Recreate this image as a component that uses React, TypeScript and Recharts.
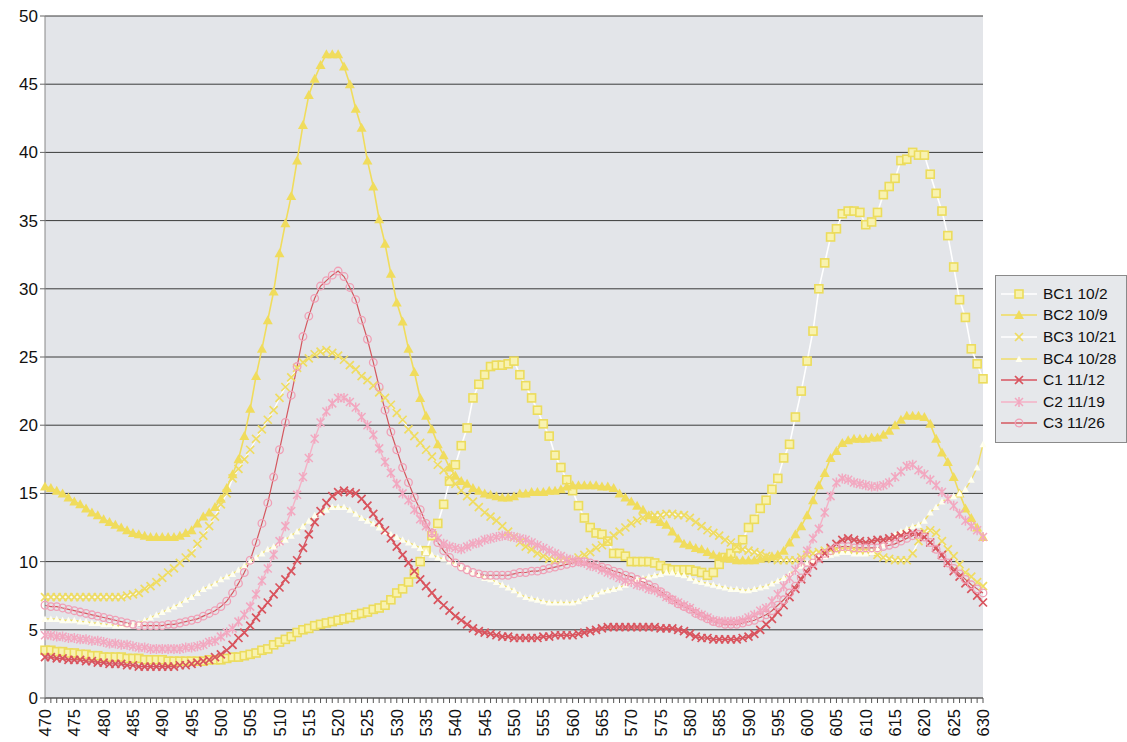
import React from 'react';
import { LineChart, Line, XAxis, YAxis, CartesianGrid } from 'recharts';

const FONT = '"Liberation Sans", Arial, sans-serif';

const wavelengths = [
  470, 471, 472, 473, 474, 475, 476, 477, 478, 479, 480, 481, 482, 483, 484, 485, 486, 487, 488, 489,
  490, 491, 492, 493, 494, 495, 496, 497, 498, 499, 500, 501, 502, 503, 504, 505, 506, 507, 508, 509,
  510, 511, 512, 513, 514, 515, 516, 517, 518, 519, 520, 521, 522, 523, 524, 525, 526, 527, 528, 529,
  530, 531, 532, 533, 534, 535, 536, 537, 538, 539, 540, 541, 542, 543, 544, 545, 546, 547, 548, 549,
  550, 551, 552, 553, 554, 555, 556, 557, 558, 559, 560, 561, 562, 563, 564, 565, 566, 567, 568, 569,
  570, 571, 572, 573, 574, 575, 576, 577, 578, 579, 580, 581, 582, 583, 584, 585, 586, 587, 588, 589,
  590, 591, 592, 593, 594, 595, 596, 597, 598, 599, 600, 601, 602, 603, 604, 605, 606, 607, 608, 609,
  610, 611, 612, 613, 614, 615, 616, 617, 618, 619, 620, 621, 622, 623, 624, 625, 626, 627, 628, 629,
  630,
];

const yTicks = [0, 5, 10, 15, 20, 25, 30, 35, 40, 45, 50];

const bc1 = [
  3.5, 3.5, 3.4, 3.4, 3.3, 3.3, 3.2, 3.2, 3.1, 3.1,
  3.0, 3.0, 3.0, 3.0, 2.9, 2.9, 2.9, 2.8, 2.8, 2.8,
  2.8, 2.7, 2.7, 2.7, 2.7, 2.7, 2.7, 2.7, 2.8, 2.8,
  2.8, 2.9, 3.0, 3.0, 3.1, 3.2, 3.3, 3.5, 3.6, 3.9,
  4.1, 4.3, 4.5, 4.8, 5.0, 5.1, 5.3, 5.4, 5.5, 5.6,
  5.7, 5.8, 5.9, 6.1, 6.2, 6.3, 6.5, 6.6, 6.8, 7.2,
  7.7, 8.0, 8.5, 9.1, 10.0, 10.8, 11.9, 12.8, 14.2, 15.9,
  17.1, 18.5, 19.8, 22.0, 23.0, 23.7, 24.3, 24.4, 24.4, 24.5,
  24.7, 23.7, 22.9, 22.0, 21.1, 20.1, 19.2, 17.8, 16.9, 16.0,
  15.2, 14.1, 13.2, 12.5, 12.1, 12.0, 11.5, 10.6, 10.6, 10.4,
  10.0, 10.0, 10.0, 10.0, 9.9, 9.7, 9.5, 9.4, 9.4, 9.4,
  9.4, 9.3, 9.2, 9.0, 9.2, 9.8, 10.3, 10.6, 11.0, 11.6,
  12.5, 13.1, 13.9, 14.5, 15.3, 16.1, 17.6, 18.6, 20.6, 22.5,
  24.7, 26.9, 30.0, 31.9, 33.8, 34.4, 35.5, 35.7, 35.7, 35.6,
  34.7, 34.9, 35.6, 36.9, 37.5, 38.1, 39.4, 39.5, 40.0, 39.8,
  39.8, 38.4, 37.0, 35.7, 33.9, 31.6, 29.2, 27.9, 25.6, 24.5,
  23.4,
];

const bc2 = [
  15.5, 15.4, 15.2, 15.0, 14.7, 14.4, 14.2, 13.9, 13.6, 13.4,
  13.1, 12.9, 12.7, 12.5, 12.3, 12.1, 12.0, 11.9, 11.8, 11.8,
  11.8, 11.8, 11.8, 11.9, 12.1, 12.3, 12.8, 13.3, 13.6, 14.0,
  14.6, 15.4, 16.4, 17.5, 19.2, 21.2, 23.6, 25.6, 27.7, 29.8,
  32.6, 34.8, 36.8, 39.4, 42.0, 44.2, 45.4, 46.4, 47.2, 47.2,
  47.2, 46.3, 45.0, 43.2, 41.8, 39.4, 37.5, 35.1, 33.3, 31.1,
  29.0, 27.6, 25.6, 23.9, 22.0, 20.7, 19.7, 18.6, 17.8, 16.9,
  16.3, 15.9, 15.7, 15.4, 15.2, 15.0, 14.9, 14.8, 14.7, 14.7,
  14.8, 15.0, 15.0, 15.1, 15.1, 15.1, 15.2, 15.2, 15.3, 15.5,
  15.6, 15.6, 15.6, 15.6, 15.6, 15.5, 15.5, 15.4, 15.0, 14.7,
  14.4, 14.1, 13.8, 13.4, 13.1, 12.9, 12.7, 12.2, 11.7, 11.3,
  11.2, 11.0, 10.9, 10.7, 10.5, 10.4, 10.3, 10.2, 10.1, 10.1,
  10.1, 10.1, 10.2, 10.3, 10.4, 10.5, 10.8, 11.4, 12.0, 12.6,
  13.4, 14.5, 15.6, 16.5, 17.6, 18.1, 18.7, 18.9, 19.0, 19.0,
  19.0, 19.1, 19.1, 19.3, 19.6, 20.0, 20.4, 20.7, 20.7, 20.7,
  20.6, 20.1, 19.0, 18.0, 17.3, 16.2, 15.0, 13.9, 13.2, 12.5,
  11.8,
];

const bc3 = [
  7.4, 7.4, 7.4, 7.4, 7.4, 7.4, 7.4, 7.4, 7.4, 7.4,
  7.4, 7.4, 7.4, 7.4, 7.5, 7.6, 7.7, 8.0, 8.2, 8.5,
  8.8, 9.2, 9.5, 9.9, 10.3, 10.6, 11.3, 11.9, 12.6, 13.3,
  14.2, 15.0, 16.1, 16.8, 17.5, 18.2, 19.0, 19.7, 20.4, 21.1,
  22.0, 22.8, 23.5, 24.2, 24.6, 24.9, 25.2, 25.4, 25.5, 25.3,
  25.1, 24.8, 24.4, 24.1, 23.6, 23.3, 22.9, 22.4, 22.0, 21.5,
  20.9, 20.4, 19.7, 19.2, 18.7, 18.2, 17.7, 17.1, 16.7, 16.2,
  15.7, 15.2, 14.8, 14.4, 14.0, 13.6, 13.3, 13.0, 12.6, 12.2,
  11.8, 11.4, 11.1, 10.9, 10.6, 10.4, 10.2, 10.1, 10.1, 10.1,
  10.1, 10.3, 10.5, 10.7, 11.0, 11.2, 11.5, 11.9, 12.2, 12.5,
  12.8, 13.0, 13.2, 13.3, 13.4, 13.4, 13.5, 13.5, 13.4, 13.4,
  13.2, 12.9, 12.6, 12.3, 12.1, 11.9, 11.6, 11.4, 11.1, 10.9,
  10.8, 10.7, 10.6, 10.4, 10.2, 10.1, 10.1, 10.1, 10.1, 10.3,
  10.5, 10.6, 10.7, 10.8, 10.9, 10.9, 10.9, 10.9, 10.9, 10.8,
  10.8, 10.7, 10.5, 10.3, 10.2, 10.1, 10.1, 10.1, 10.6, 11.5,
  12.2, 12.3, 12.1, 11.5, 10.9, 10.4, 9.8, 9.2, 8.9, 8.5,
  8.2,
];

const bc4 = [
  5.8, 5.8, 5.8, 5.7, 5.7, 5.7, 5.6, 5.6, 5.5, 5.5,
  5.4, 5.4, 5.3, 5.3, 5.3, 5.4, 5.5, 5.7, 5.9, 6.1,
  6.3, 6.5, 6.7, 6.9, 7.2, 7.4, 7.7, 8.0, 8.2, 8.4,
  8.7, 8.9, 9.1, 9.4, 9.7, 10.0, 10.3, 10.6, 10.9, 11.1,
  11.4, 11.6, 11.9, 12.2, 12.6, 13.0, 13.4, 13.6, 13.8, 14.0,
  14.0, 14.0, 13.8, 13.5, 13.2, 13.0, 12.8, 12.5, 12.2, 12.0,
  11.8, 11.6, 11.4, 11.2, 11.0, 10.7, 10.5, 10.3, 10.2, 10.0,
  9.8, 9.6, 9.4, 9.2, 9.0, 8.8, 8.7, 8.5, 8.3, 8.1,
  7.9, 7.6, 7.4, 7.3, 7.2, 7.1, 7.0, 7.0, 7.0, 7.0,
  7.0, 7.1, 7.3, 7.4, 7.6, 7.8, 7.9, 8.0, 8.1, 8.3,
  8.5, 8.7, 8.8, 8.9, 9.0, 9.1, 9.2, 9.2, 9.1, 9.0,
  8.8, 8.6, 8.5, 8.4, 8.3, 8.2, 8.1, 8.0, 8.0, 7.9,
  7.9, 8.0, 8.1, 8.2, 8.4, 8.6, 8.8, 9.1, 9.4, 9.7,
  9.9, 10.1, 10.3, 10.4, 10.5, 10.6, 10.7, 10.7, 10.6, 10.6,
  10.6, 10.7, 10.9, 11.2, 11.6, 12.0, 12.2, 12.4, 12.6, 12.7,
  13.0, 13.6, 14.0, 14.4, 14.6, 14.8, 15.0, 15.3, 16.0, 16.9,
  18.6,
];

const c1 = [
  3.0, 3.0, 2.9, 2.9, 2.8, 2.8, 2.8, 2.7, 2.7, 2.6,
  2.6, 2.5, 2.5, 2.5, 2.4, 2.4, 2.3, 2.3, 2.3, 2.3,
  2.3, 2.3, 2.3, 2.4, 2.4, 2.5, 2.6, 2.7, 2.8, 3.0,
  3.2, 3.5, 3.9, 4.4, 4.8, 5.3, 5.9, 6.5, 7.0, 7.6,
  8.1, 8.7, 9.3, 10.1, 11.0, 12.0, 12.9, 13.7, 14.3, 14.8,
  15.1, 15.2, 15.1, 15.0, 14.6, 14.1, 13.5, 12.9, 12.3, 11.7,
  11.1, 10.5, 9.9, 9.3, 8.7, 8.2, 7.7, 7.2, 6.8, 6.4,
  6.0, 5.7, 5.4, 5.1, 4.9, 4.8, 4.7, 4.6, 4.5, 4.5,
  4.4, 4.4, 4.4, 4.4, 4.4, 4.5, 4.5, 4.6, 4.6, 4.6,
  4.6, 4.7, 4.8, 4.9, 5.0, 5.1, 5.2, 5.2, 5.2, 5.2,
  5.2, 5.2, 5.2, 5.2, 5.2, 5.1, 5.1, 5.1, 5.0, 4.9,
  4.7, 4.5, 4.4, 4.4, 4.3, 4.3, 4.3, 4.3, 4.3, 4.4,
  4.5, 4.7, 5.0, 5.4, 5.8, 6.3, 6.8, 7.4, 8.0, 8.7,
  9.2, 9.7, 10.2, 10.6, 11.0, 11.3, 11.6, 11.7, 11.6, 11.5,
  11.4, 11.5, 11.6, 11.6, 11.7, 11.8, 11.9, 12.0, 12.1, 12.0,
  11.8, 11.4, 11.0, 10.5, 9.9, 9.3, 8.9, 8.4, 8.0, 7.5,
  7.0,
];

const c2 = [
  4.6, 4.6, 4.5, 4.5, 4.4, 4.4, 4.3, 4.3, 4.2, 4.2,
  4.1, 4.0, 4.0, 3.9, 3.9, 3.8, 3.7, 3.7, 3.6, 3.6,
  3.6, 3.6, 3.6, 3.6, 3.7, 3.7, 3.8, 3.9, 4.1, 4.2,
  4.5, 4.8, 5.1, 5.6, 6.1, 6.7, 7.6, 8.6, 9.5, 10.5,
  11.5, 12.6, 13.7, 14.9, 16.2, 17.6, 19.0, 20.2, 21.0, 21.6,
  22.0, 22.0, 21.7, 21.3, 20.6, 20.0, 19.3, 18.3, 17.3, 16.5,
  15.7, 15.0, 14.5, 13.8, 13.1, 12.6, 12.1, 11.7, 11.3, 11.1,
  11.0, 10.9, 11.1, 11.3, 11.4, 11.6, 11.7, 11.8, 11.9, 11.9,
  11.8, 11.7, 11.6, 11.4, 11.2, 11.0, 10.8, 10.6, 10.4, 10.2,
  10.1, 10.0, 9.9, 9.7, 9.6, 9.4, 9.2, 9.0, 8.8, 8.6,
  8.5, 8.3, 8.2, 8.0, 7.9, 7.7, 7.4, 7.2, 7.0, 6.8,
  6.6, 6.3, 6.1, 5.9, 5.7, 5.6, 5.6, 5.6, 5.6, 5.7,
  5.9, 6.1, 6.4, 6.6, 7.1, 7.6, 8.2, 8.8, 9.4, 10.0,
  10.8, 11.7, 12.4, 13.6, 14.8, 15.8, 16.1, 16.0, 15.8, 15.7,
  15.6, 15.5, 15.5, 15.6, 15.8, 16.2, 16.6, 17.0, 17.1, 16.7,
  16.4, 16.0, 15.6, 15.1, 14.6, 14.1, 13.5, 13.0, 12.6, 12.3,
  11.8,
];

const c3 = [
  6.8, 6.7, 6.7, 6.6, 6.5, 6.4, 6.3, 6.2, 6.1, 6.0,
  5.9, 5.8, 5.7, 5.6, 5.5, 5.4, 5.3, 5.3, 5.3, 5.3,
  5.3, 5.4, 5.4, 5.5, 5.6, 5.7, 5.8, 6.0, 6.2, 6.4,
  6.7, 7.1, 7.7, 8.4, 9.2, 10.1, 11.4, 12.8, 14.3, 16.2,
  18.2, 20.2, 22.2, 24.3, 26.5, 28.0, 29.3, 30.2, 30.6, 31.0,
  31.3, 30.9, 30.1, 29.2, 27.7, 26.3, 24.6, 22.8, 21.1, 19.5,
  18.2, 16.9, 15.8, 14.7, 13.8, 12.8, 12.1, 11.4, 10.8, 10.3,
  9.9, 9.6, 9.4, 9.2, 9.1, 9.0, 9.0, 9.0, 9.0, 9.0,
  9.1, 9.2, 9.2, 9.3, 9.3, 9.4, 9.5, 9.6, 9.7, 9.8,
  9.9, 10.0, 10.0, 9.9, 9.8, 9.6, 9.5, 9.3, 9.2, 9.0,
  8.9, 8.7, 8.5, 8.3, 8.1, 7.8, 7.5, 7.2, 6.9, 6.7,
  6.5, 6.2, 6.0, 5.8, 5.6, 5.5, 5.4, 5.4, 5.4, 5.5,
  5.6, 5.7, 5.9, 6.1, 6.4, 6.8, 7.2, 7.7, 8.2, 8.8,
  9.4, 9.9, 10.3, 10.6, 10.8, 11.0, 11.1, 11.1, 11.0, 11.0,
  11.0, 11.0, 11.0, 11.1, 11.2, 11.3, 11.5, 11.7, 11.9, 12.0,
  11.8, 11.4, 10.9, 10.4, 9.9, 9.5, 9.1, 8.7, 8.3, 8.0,
  7.7,
];

type Marker = 'square' | 'triangle' | 'x' | 'smallTriangle' | 'star' | 'circle';

interface SeriesDef {
  key: string;
  name: string;
  line: string;
  lineWidth: number;
  marker: Marker;
  markerColor: string;
  markerFill: string;
}

const series: SeriesDef[] = [
  { key: 'bc1', name: 'BC1 10/2', line: '#ffffff', lineWidth: 1.6, marker: 'square', markerColor: '#ecdc5c', markerFill: '#f8f2b0' },
  { key: 'bc2', name: 'BC2 10/9', line: '#f0dc5c', lineWidth: 1.6, marker: 'triangle', markerColor: '#f0dc5c', markerFill: '#f0dc5c' },
  { key: 'bc3', name: 'BC3 10/21', line: '#ffffff', lineWidth: 1.4, marker: 'x', markerColor: '#efdc62', markerFill: 'none' },
  { key: 'bc4', name: 'BC4 10/28', line: '#f0de68', lineWidth: 1.4, marker: 'smallTriangle', markerColor: '#fffff0', markerFill: '#fffff0' },
  { key: 'c1', name: 'C1 11/12', line: '#d85560', lineWidth: 1.4, marker: 'x', markerColor: '#d9545e', markerFill: 'none' },
  { key: 'c2', name: 'C2 11/19', line: '#f4b2c6', lineWidth: 1.4, marker: 'star', markerColor: '#f2a8c0', markerFill: 'none' },
  { key: 'c3', name: 'C3 11/26', line: '#d4585f', lineWidth: 1.2, marker: 'circle', markerColor: '#f0a0b6', markerFill: 'none' },
];

const values: Record<string, number[]> = { bc1, bc2, bc3, bc4, c1, c2, c3 };

const rows = wavelengths.map((nm, i) => {
  const row: Record<string, number> = { nm };
  series.forEach((s) => {
    row[s.key] = values[s.key][i];
  });
  return row;
});

function markerShape(m: Marker, cx: number, cy: number, color: string, fill: string, key?: string) {
  switch (m) {
    case 'square':
      return <rect key={key} x={cx - 4} y={cy - 4} width={8} height={8} fill={fill} stroke={color} strokeWidth={1.6} />;
    case 'triangle':
      return <path key={key} d={`M${cx},${cy - 5}L${cx + 5},${cy + 4}L${cx - 5},${cy + 4}Z`} fill={fill} />;
    case 'smallTriangle':
      return <path key={key} d={`M${cx},${cy - 3.5}L${cx + 3.5},${cy + 3}L${cx - 3.5},${cy + 3}Z`} fill={fill} />;
    case 'x':
      return (
        <path key={key} d={`M${cx - 4},${cy - 4}L${cx + 4},${cy + 4}M${cx - 4},${cy + 4}L${cx + 4},${cy - 4}`} stroke={color} strokeWidth={1.7} fill="none" />
      );
    case 'star':
      return (
        <path
          key={key}
          d={`M${cx - 4},${cy - 4}L${cx + 4},${cy + 4}M${cx - 4},${cy + 4}L${cx + 4},${cy - 4}M${cx},${cy - 5}L${cx},${cy + 5}`}
          stroke={color}
          strokeWidth={1.5}
          fill="none"
        />
      );
    case 'circle':
      return <circle key={key} cx={cx} cy={cy} r={3.8} fill="none" stroke={color} strokeWidth={1.3} />;
  }
  return null;
}

const makeDot = (s: SeriesDef) => (props: any) => {
  const { cx, cy, index } = props;
  if (cx == null || cy == null) return <g key={`${s.key}-${index}`} />;
  return markerShape(s.marker, cx, cy, s.markerColor, s.markerFill, `${s.key}-${index}`);
};

// only every 5th wavelength gets a label; the rest keep just their tick mark
const XTick = (props: any) => {
  const { x, y, payload } = props;
  if (payload.value % 5 !== 0) return <g />;
  return (
    <g transform={`translate(${x},${y})`}>
      <text transform="rotate(-90)" x={-4} y={0} dy={6} textAnchor="end" fontSize={16.5} fill="#111" fontFamily={FONT}>
        {payload.value}
      </text>
    </g>
  );
};

function LegendBox() {
  return (
    <div
      style={{
        position: 'absolute',
        left: 995,
        top: 275,
        width: 132,
        height: 168,
        boxSizing: 'border-box',
        border: '1px solid #8a8a8a',
        background: '#e6e8eb',
        paddingTop: 7,
        fontFamily: FONT,
        fontSize: 15.5,
        color: '#111',
      }}
    >
      {series.map((s) => (
        <div key={s.key} style={{ display: 'flex', alignItems: 'center', height: 21.6 }}>
          <svg width={42} height={14} style={{ marginLeft: 3 }}>
            <line x1={2} y1={7} x2={38} y2={7} stroke={s.line} strokeWidth={1.6} />
            {markerShape(s.marker, 20, 7, s.markerColor, s.markerFill)}
          </svg>
          <span style={{ marginLeft: 2, whiteSpace: 'nowrap' }}>{s.name}</span>
        </div>
      ))}
    </div>
  );
}

export default function App() {
  return (
    <div style={{ position: 'absolute', left: 0, top: 0, width: 1127, height: 742, background: '#fff' }}>
      <LineChart width={1127} height={742} data={rows} margin={{ top: 16, right: 144, bottom: 0, left: 0 }}>
        <CartesianGrid vertical={false} horizontal stroke="#3a3a3a" strokeWidth={1} fill="#e3e5e9" />
        <XAxis
          dataKey="nm"
          interval={0}
          height={44}
          tick={<XTick />}
          tickLine={{ stroke: '#555' }}
          tickSize={5}
          axisLine={{ stroke: '#666' }}
        />
        <YAxis
          domain={[0, 50]}
          ticks={yTicks}
          interval={0}
          width={45}
          tickSize={5}
          tick={{ fontSize: 17, fill: '#111', fontFamily: FONT }}
          tickLine={{ stroke: '#666' }}
          axisLine={{ stroke: '#888' }}
        />
        <YAxis yAxisId="frame" orientation="right" domain={[0, 50]} width={0} tick={false} tickLine={false} axisLine={{ stroke: '#9a9a9a' }} />
        {series.map((s) => (
          <Line
            key={s.key}
            dataKey={s.key}
            name={s.name}
            type="linear"
            stroke={s.line}
            strokeWidth={s.lineWidth}
            dot={makeDot(s)}
            activeDot={false}
            isAnimationActive={false}
          />
        ))}
      </LineChart>
      <LegendBox />
    </div>
  );
}
